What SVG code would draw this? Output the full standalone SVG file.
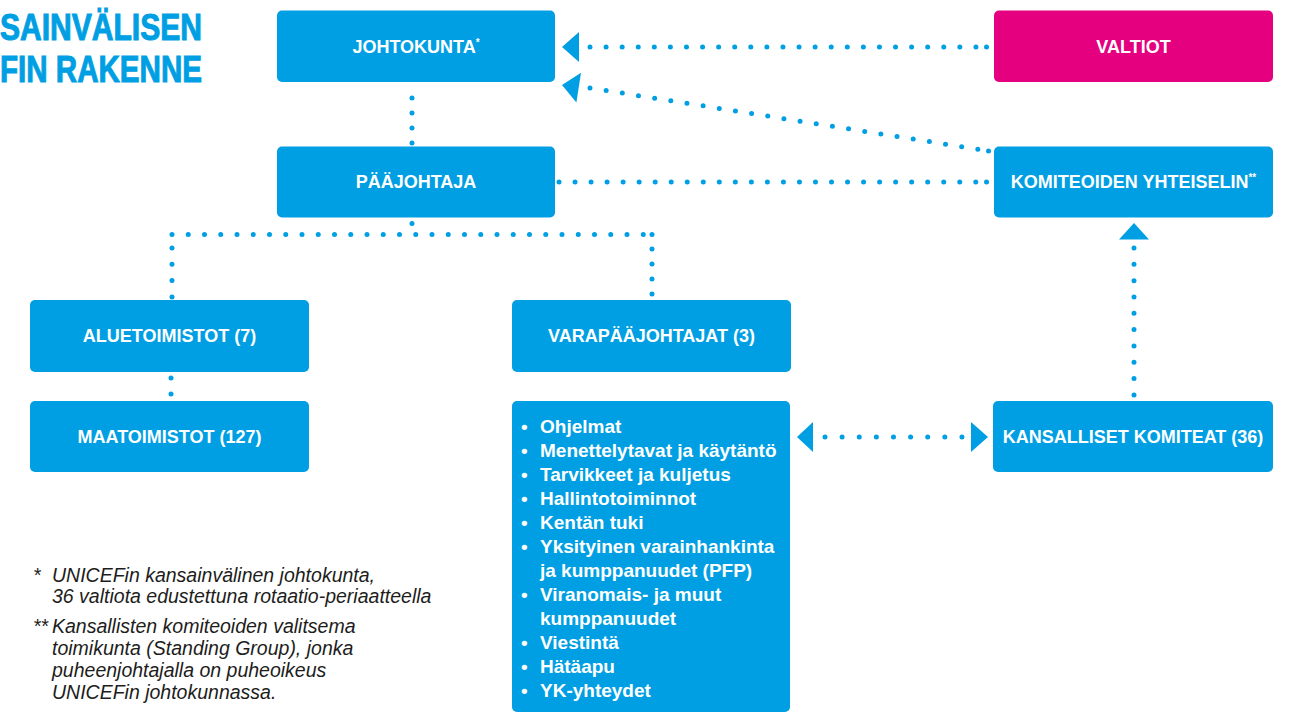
<svg xmlns="http://www.w3.org/2000/svg" width="1292" height="716" viewBox="0 0 1292 716">
<style>
.box{fill:#009FE3}
.mag{fill:#E4007F}
.lbl{font-family:"Liberation Sans",Arial,sans-serif;font-weight:bold;font-size:18px;fill:#fff;text-anchor:middle}
.lst{font-family:"Liberation Sans",Arial,sans-serif;font-weight:bold;font-size:19px;fill:#fff}
.ttl{font-family:"Liberation Sans",Arial,sans-serif;font-weight:bold;font-size:36px;fill:#009FE3;stroke:#009FE3;stroke-width:1}
.fn{font-family:"Liberation Sans",Arial,sans-serif;font-style:italic;font-size:19.5px;fill:#1d1d1b}
.dot{fill:none;stroke:#009FE3;stroke-width:5;stroke-linecap:round}
.pt{fill:#009FE3}
.arr{fill:#009FE3}
</style>
<rect width="1292" height="716" fill="#fff"/>
<g id="title">
<text class="ttl" x="0" y="39.5" textLength="202" lengthAdjust="spacingAndGlyphs">SAINVÄLISEN</text>
<text class="ttl" x="0" y="81.5" textLength="202" lengthAdjust="spacingAndGlyphs">FIN RAKENNE</text>
</g>
<g id="connectors">
<path class="dot" d="M590 47 H976" stroke-dasharray="0 16.08"/>
<circle class="pt" cx="986.5" cy="47" r="2.5"/>
<polygon class="arr" points="562,47 579,32 579,62"/>
<path class="dot" d="M590 88 L978 149.3" stroke-dasharray="0 16.36"/>
<circle class="pt" cx="988.5" cy="151" r="2.5"/>
<polygon class="arr" points="562,85 581,72.8 576.4,102.5"/>
<path class="dot" d="M559 182 H976" stroke-dasharray="0 16.03"/>
<circle class="pt" cx="986.5" cy="182" r="2.5"/>
<path class="dot" d="M412 98 V143" stroke-dasharray="0 14.99"/>
<circle class="pt" cx="412" cy="223.5" r="2.5"/>
<path class="dot" d="M172 234.5 H643.5" stroke-dasharray="0 16.25"/>
<circle class="pt" cx="652" cy="234.5" r="2.5"/>
<path class="dot" d="M172 248 V297" stroke-dasharray="0 16.3"/>
<path class="dot" d="M652 249 V294" stroke-dasharray="0 14.99"/>
<path class="dot" d="M171 378 V394" stroke-dasharray="0 15.99"/>
<path class="dot" d="M1134 248 V395" stroke-dasharray="0 16.32"/>
<polygon class="arr" points="1134,223 1119,239.5 1149,239.5"/>
<path class="dot" d="M825 437 H962" stroke-dasharray="0 17.12"/>
<polygon class="arr" points="797,437 813,422 813,452"/>
<polygon class="arr" points="988,437 971,422 971,452"/>
</g>
<g id="johtokunta">
<rect class="box" x="277" y="10.5" width="278" height="71.5" rx="5"/>
<text class="lbl" x="416" y="53">JOHTOKUNTA<tspan font-size="10" dy="-7">*</tspan></text>
</g>
<g id="valtiot">
<rect class="mag" x="994" y="10.5" width="279" height="71.5" rx="5"/>
<text class="lbl" x="1133.5" y="53">VALTIOT</text>
</g>
<g id="paajohtaja">
<rect class="box" x="277" y="146.5" width="278" height="71" rx="5"/>
<text class="lbl" x="416" y="188">PÄÄJOHTAJA</text>
</g>
<g id="komiteoiden-yhteiselin">
<rect class="box" x="994" y="146.5" width="279" height="71" rx="5"/>
<text class="lbl" x="1133.5" y="188">KOMITEOIDEN YHTEISELIN<tspan font-size="10" dy="-7">**</tspan></text>
</g>
<g id="aluetoimistot">
<rect class="box" x="30" y="300" width="279" height="72" rx="5"/>
<text class="lbl" x="169.5" y="342">ALUETOIMISTOT (7)</text>
</g>
<g id="varapaajohtajat">
<rect class="box" x="512" y="300" width="279" height="72" rx="5"/>
<text class="lbl" x="651.5" y="342">VARAPÄÄJOHTAJAT (3)</text>
</g>
<g id="maatoimistot">
<rect class="box" x="30" y="401" width="279" height="71" rx="5"/>
<text class="lbl" x="169.5" y="443">MAATOIMISTOT (127)</text>
</g>
<g id="toiminnot">
<rect class="box" x="512" y="401" width="278" height="311" rx="5"/>
<text class="lst" x="521" y="433">•</text><text class="lst" x="540" y="433">Ohjelmat</text>
<text class="lst" x="521" y="457">•</text><text class="lst" x="540" y="457">Menettelytavat ja käytäntö</text>
<text class="lst" x="521" y="481">•</text><text class="lst" x="540" y="481">Tarvikkeet ja kuljetus</text>
<text class="lst" x="521" y="505">•</text><text class="lst" x="540" y="505">Hallintotoiminnot</text>
<text class="lst" x="521" y="529">•</text><text class="lst" x="540" y="529">Kentän tuki</text>
<text class="lst" x="521" y="553">•</text><text class="lst" x="540" y="553">Yksityinen varainhankinta</text>
<text class="lst" x="540" y="577">ja kumppanuudet (PFP)</text>
<text class="lst" x="521" y="601">•</text><text class="lst" x="540" y="601">Viranomais- ja muut</text>
<text class="lst" x="540" y="625">kumppanuudet</text>
<text class="lst" x="521" y="649">•</text><text class="lst" x="540" y="649">Viestintä</text>
<text class="lst" x="521" y="673">•</text><text class="lst" x="540" y="673">Hätäapu</text>
<text class="lst" x="521" y="697">•</text><text class="lst" x="540" y="697">YK-yhteydet</text>
</g>
<g id="kansalliset-komiteat">
<rect class="box" x="993" y="401" width="280" height="71" rx="5"/>
<text class="lbl" x="1133" y="443">KANSALLISET KOMITEAT (36)</text>
</g>
<g id="footnotes">
<text class="fn" x="33" y="582">*</text>
<text class="fn" x="52" y="582">UNICEFin kansainvälinen johtokunta,</text>
<text class="fn" x="52" y="603">36 valtiota edustettuna rotaatio-periaatteella</text>
<text class="fn" x="33" y="633">**</text>
<text class="fn" x="52" y="633">Kansallisten komiteoiden valitsema</text>
<text class="fn" x="52" y="655">toimikunta (Standing Group), jonka</text>
<text class="fn" x="52" y="677">puheenjohtajalla on puheoikeus</text>
<text class="fn" x="52" y="699">UNICEFin johtokunnassa.</text>
</g>
</svg>
